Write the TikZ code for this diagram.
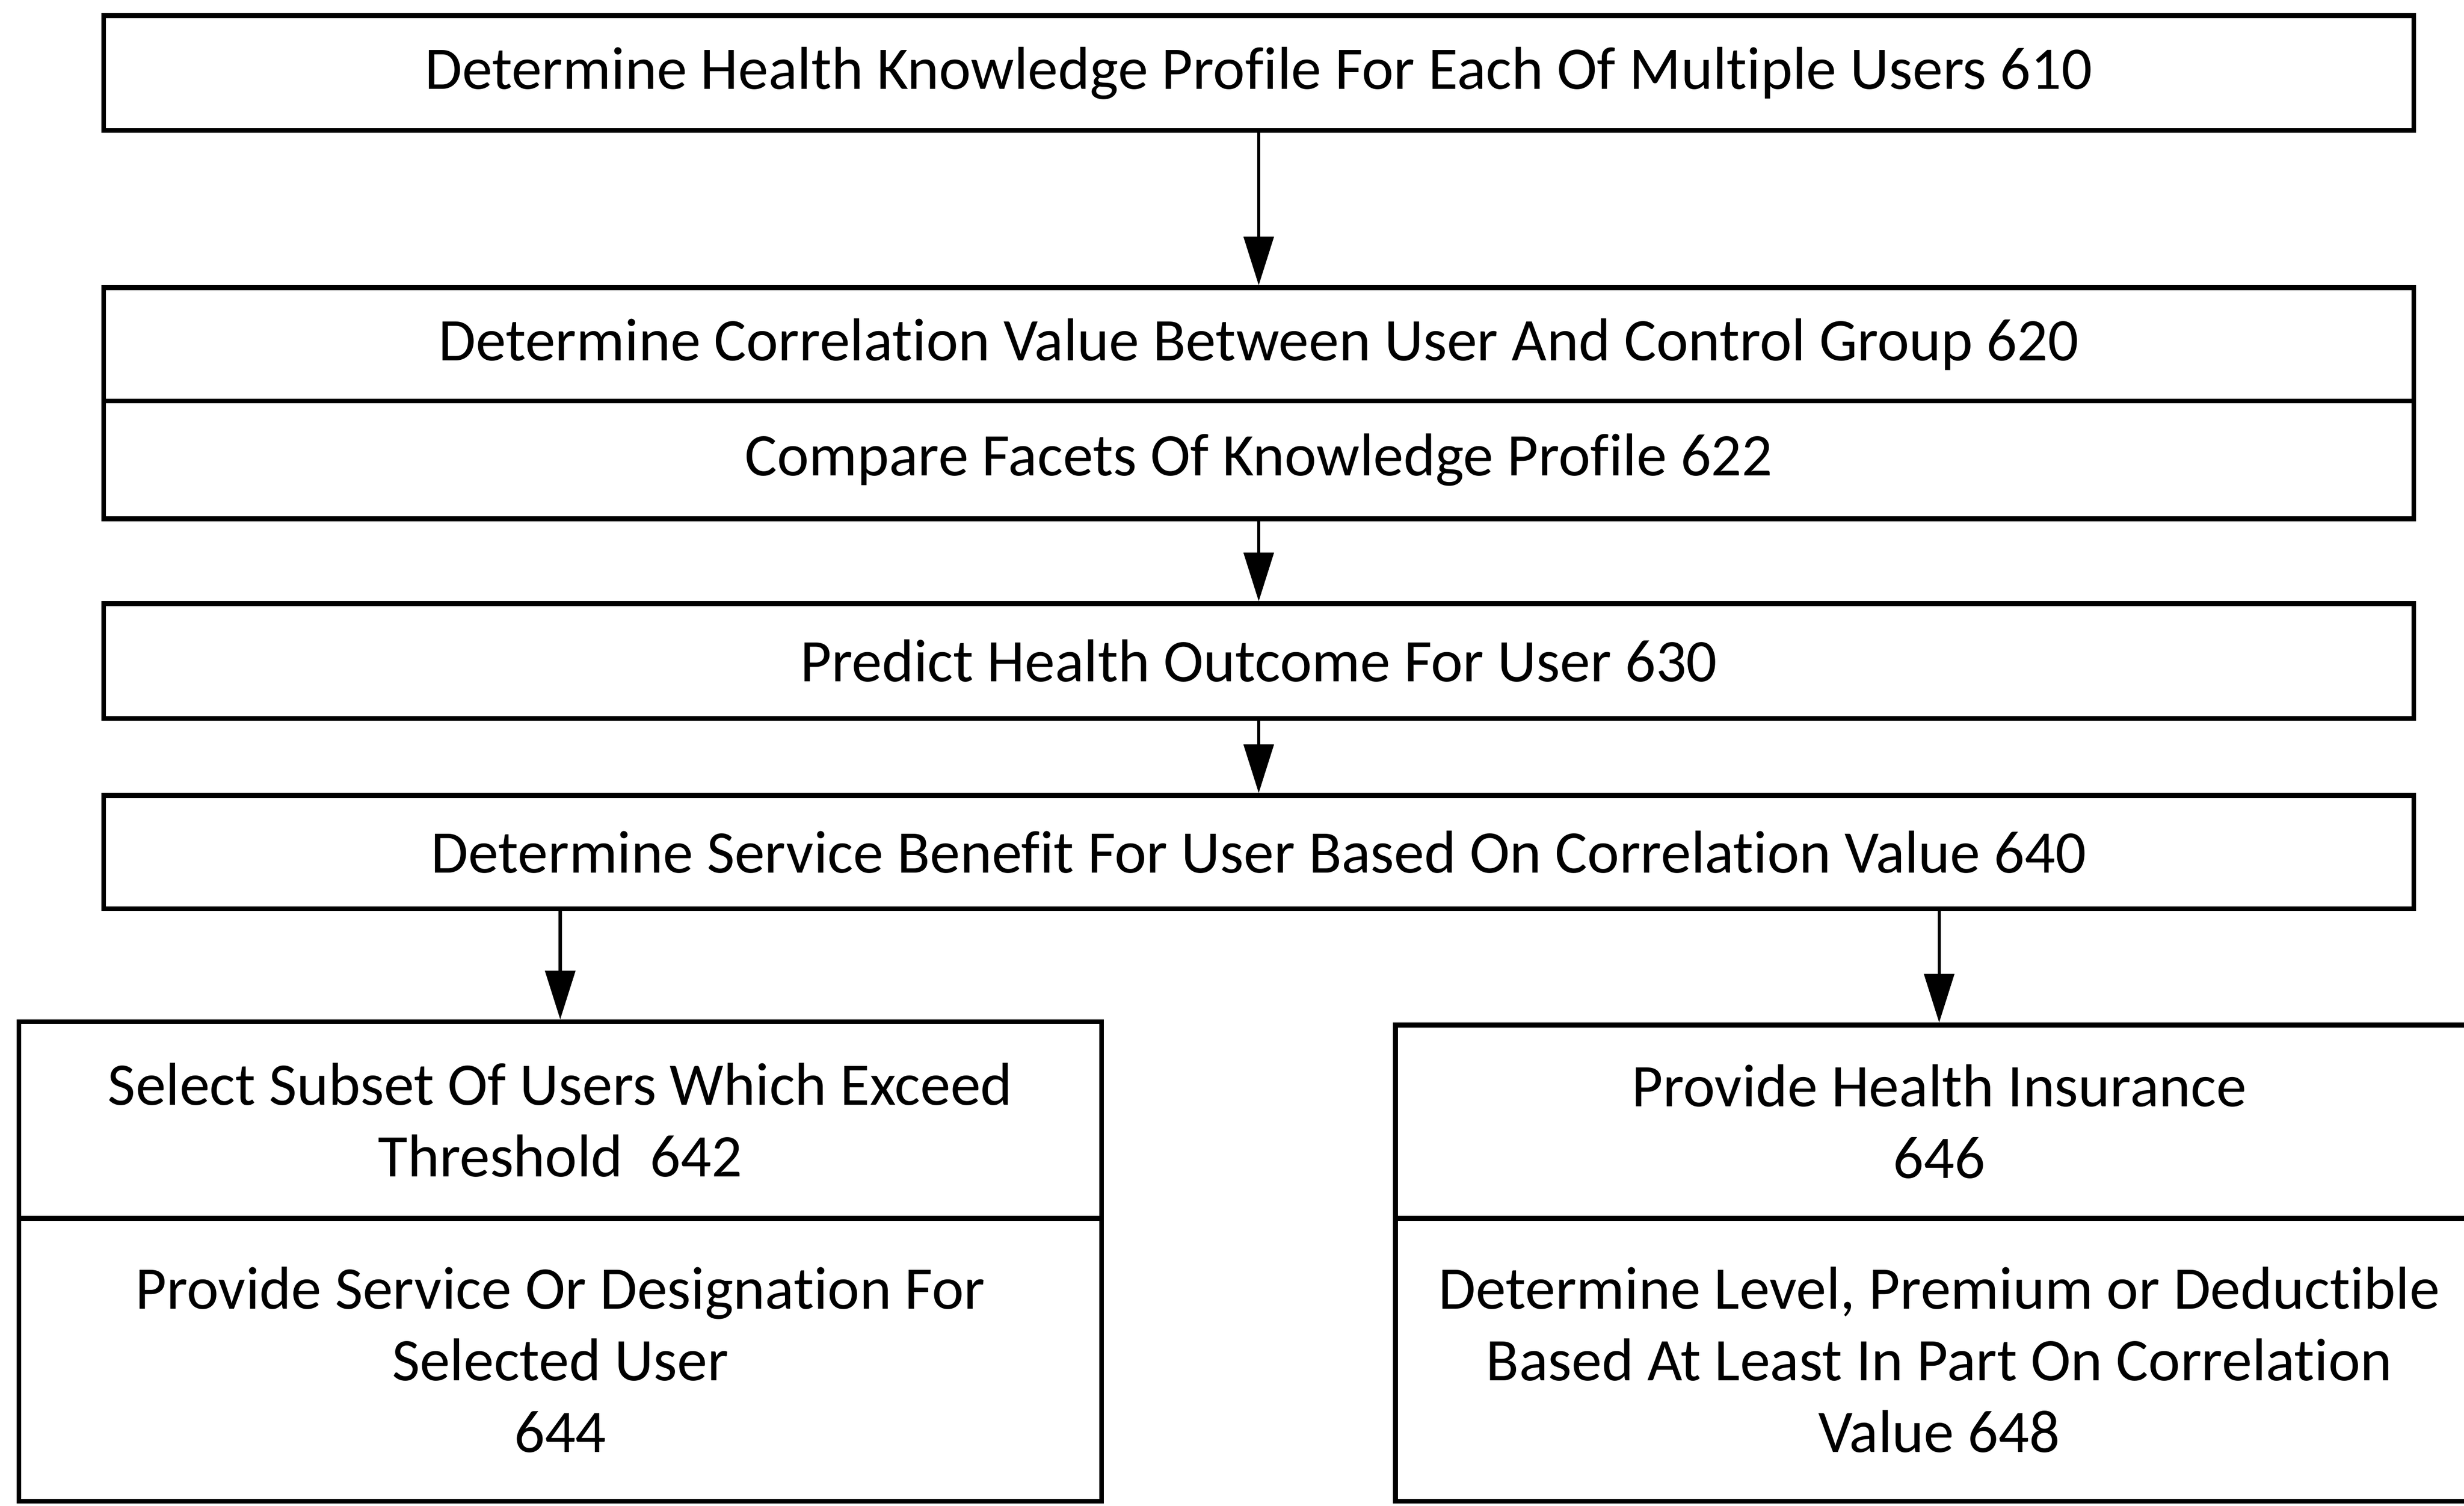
\documentclass[tikz,border=0pt]{standalone}
\usepackage{fontspec}
\setmainfont{Carlito}[Ligatures={NoCommon,NoRequired}]
\usetikzlibrary{arrows.meta}
\begin{document}
\begin{tikzpicture}[x=1pt,y=-1pt,
  box/.style={draw=black, line width=3pt, rectangle, inner sep=0pt, align=center,
    font=\fontsize{38.5}{45.5}\selectfont},
  arr/.style={draw=black, line width=2pt, -{Triangle[length=31pt,width=19pt]}}]
\useasboundingbox (0,0) rectangle (1568,958);
% top column
\node[box, minimum width=1470pt, minimum height=73pt] (b610) at (801,46.5)
  {Determine Health Knowledge Profile For Each Of Multiple Users 610};
\node[box, minimum width=1470pt, minimum height=72pt] (b620) at (801,219)
  {Determine Correlation Value Between User And Control Group 620};
\node[box, minimum width=1470pt, minimum height=75pt] (b622) at (801,292.5)
  {Compare Facets Of Knowledge Profile 622};
\node[box, minimum width=1470pt, minimum height=73pt] (b630) at (801,420.5)
  {Predict Health Outcome For User 630};
\node[box, minimum width=1470pt, minimum height=72pt] (b640) at (801,542)
  {Determine Service Benefit For User Based On Correlation Value 640};
% left pair
\node[box, minimum width=689pt, minimum height=125pt] (b642) at (356.5,712.5)
  {Select Subset Of Users Which Exceed\\Threshold\ \ 642};
\node[box, minimum width=689pt, minimum height=180pt] (b644) at (356.5,865)
  {Provide Service Or Designation For\\Selected User\\644};
% right pair
\node[box, minimum width=692pt, minimum height=123pt] (b646) at (1234,713.5)
  {Provide Health Insurance\\646};
\node[box, minimum width=692pt, minimum height=180pt] (b648) at (1234,865)
  {Determine Level, Premium or Deductible\\Based At Least In Part On Correlation\\Value 648};
% connectors
\draw[arr] (b610.south) -- (b620.north);
\draw[arr] (b622.south) -- (b630.north);
\draw[arr] (b630.south) -- (b640.north);
\draw[arr] (b640.south -| b642.north) -- (b642.north);
\draw[arr] (b640.south -| b646.north) -- (b646.north);
\end{tikzpicture}
\end{document}
